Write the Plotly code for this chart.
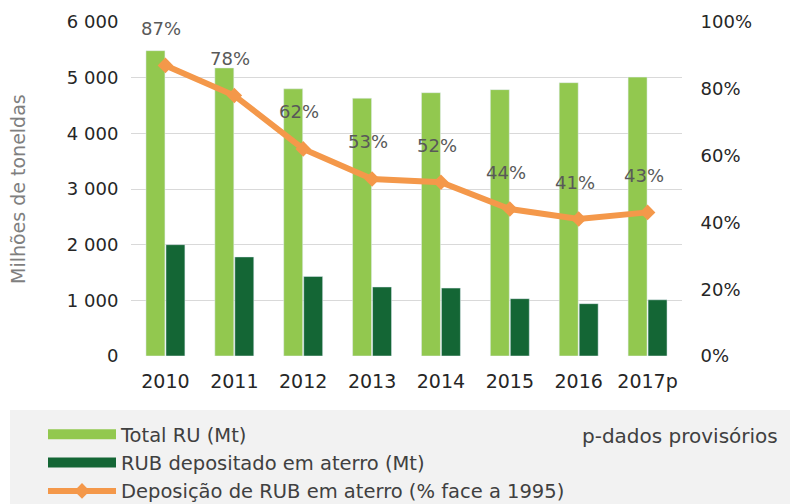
import plotly.graph_objects as go

# Resíduos urbanos
anos = ["2010", "2011", "2012", "2013", "2014", "2015", "2016", "2017p"]
total_ru = [5485, 5175, 4800, 4630, 4730, 4785, 4910, 5010]
rub_aterro = [2000, 1780, 1430, 1240, 1220, 1030, 940, 1010]
deposicao_pct = [87, 78, 62, 53, 52, 44, 41, 43]

FONT = "DejaVu Sans"
VERDE_CLARO = "#92c84f"
VERDE_ESCURO = "#146635"
LARANJA = "#f4984a"

fig = go.Figure()

fig.add_trace(go.Bar(x=anos, y=total_ru, name="Total RU (Mt)",
                     marker_color=VERDE_CLARO, showlegend=False))
fig.add_trace(go.Bar(x=anos, y=rub_aterro, name="RUB depositado em aterro (Mt)",
                     marker_color=VERDE_ESCURO, showlegend=False))

# legend-only entries so the swatches are wide rectangles
fig.add_trace(go.Scatter(x=[anos[0]], y=[None], mode="lines", name="Total RU (Mt)",
                         line=dict(color=VERDE_CLARO, width=13)))
fig.add_trace(go.Scatter(x=[anos[0]], y=[None], mode="lines", name="RUB depositado em aterro (Mt)",
                         line=dict(color=VERDE_ESCURO, width=13)))

fig.add_trace(go.Scatter(x=anos, y=deposicao_pct, yaxis="y2", mode="lines+markers",
                         name="Deposição de RUB em aterro (% face a 1995)",
                         line=dict(color=LARANJA, width=6),
                         marker=dict(symbol="diamond", size=12, color=LARANJA)))

# category axis: annotations take the category index
for i, v in enumerate(deposicao_pct):
    fig.add_annotation(x=i, y=v, yref="y2", text=f"{v}%", showarrow=False,
                       yshift=37, xshift=-4, font=dict(family=FONT, size=18, color="#595959"))

# legend background box
fig.add_shape(type="rect", xref="paper", yref="paper", x0=-0.2196, x1=1.2,
              y0=-0.1617, y1=-0.45, fillcolor="#f2f2f2", line_width=0, layer="below")

fig.add_annotation(text="p-dados provisórios", xref="paper", yref="paper",
                   x=(780 - 131) / 551, y=(356 - 436) / 334, xanchor="right", yanchor="middle",
                   showarrow=False, font=dict(family=FONT, size=20, color="#404040"))

fig.add_annotation(text="Milhões de toneldas", xref="paper", yref="paper",
                   x=(18 - 131) / 551, y=0.5, xanchor="center", yanchor="middle",
                   textangle=-90, showarrow=False,
                   font=dict(family=FONT, size=19, color="#7f7f7f"))

y_ticks = list(range(0, 6001, 1000))
y_labels = [f"{v:,}".replace(",", " ") for v in y_ticks]

fig.update_layout(
    width=790, height=504,
    margin=dict(l=131, r=108, t=22, b=148, autoexpand=False),
    plot_bgcolor="white", paper_bgcolor="white",
    font=dict(family=FONT, color="#262626"),
    barmode="group", bargap=0.42, bargroupgap=0.05,
    xaxis=dict(type="category", categoryorder="array", categoryarray=anos,
               range=[-0.5, len(anos) - 0.5],
               tickfont=dict(size=19), ticks="outside", ticklen=8, tickcolor="rgba(0,0,0,0)",
               showline=False),
    yaxis=dict(range=[0, 6000], tickvals=y_ticks, ticktext=y_labels,
               showgrid=True, gridcolor="#d9d9d9",
               zeroline=True, zerolinecolor="white",
               tickfont=dict(size=18), ticks="outside", ticklen=8, tickcolor="rgba(0,0,0,0)"),
    yaxis2=dict(range=[0, 100], dtick=20, overlaying="y", side="right",
                showgrid=False, zeroline=False, ticksuffix="%",
                tickfont=dict(size=18), ticks="outside", ticklen=14, tickcolor="rgba(0,0,0,0)"),
    legend=dict(xref="container", yref="container", x=43 / 790, xanchor="left",
                y=1 - 415 / 504, yanchor="top",
                bgcolor="rgba(0,0,0,0)", itemwidth=68,
                font=dict(family=FONT, size=19.5, color="#404040")),
)

fig.write_html("out.html", config={"displayModeBar": False},
               post_script="document.body.style.margin = '0';")
